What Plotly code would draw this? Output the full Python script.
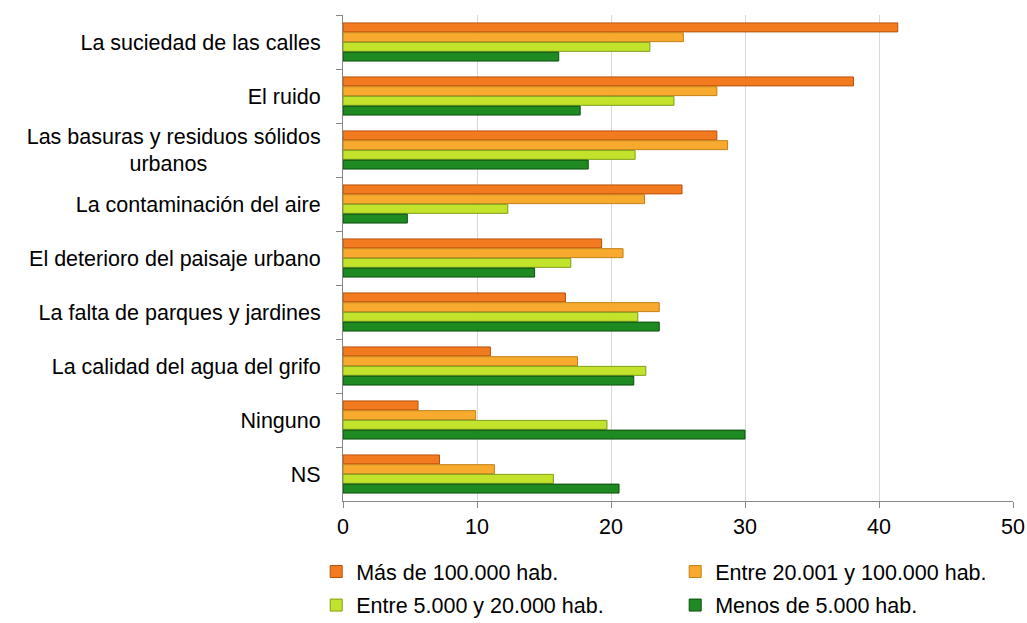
import plotly.graph_objects as go

categories = [
    "La suciedad de las calles",
    "El ruido",
    "Las basuras y residuos sólidos<br>urbanos" + "\u00a0" * 19,
    "La contaminación del aire",
    "El deterioro del paisaje urbano",
    "La falta de parques y jardines",
    "La calidad del agua del grifo",
    "Ninguno",
    "NS",
]

series_names = [
    "Más de 100.000 hab.",
    "Entre 20.001 y 100.000 hab.",
    "Entre 5.000 y 20.000 hab.",
    "Menos de 5.000 hab.",
]

mas_100000 = [41.4, 38.1, 27.9, 25.3, 19.3, 16.6, 11.0, 5.6, 7.2]
entre_20001_100000 = [25.4, 27.9, 28.7, 22.5, 20.9, 23.6, 17.5, 9.9, 11.3]
entre_5000_20000 = [22.9, 24.7, 21.8, 12.3, 17.0, 22.0, 22.6, 19.7, 15.7]
menos_5000 = [16.1, 17.7, 18.3, 4.8, 14.3, 23.6, 21.7, 30.0, 20.6]

values = [mas_100000, entre_20001_100000, entre_5000_20000, menos_5000]
fill_colors = ["#F27A1F", "#F8AA2E", "#C3E22C", "#1F8A22"]
edge_colors = ["#B9500C", "#C47F14", "#7E9F16", "#0C4F0E"]
legend_ids = ["legend", "legend", "legend2", "legend2"]

x_ticks = [0, 10, 20, 30, 40, 50]

FONT = "Liberation Sans, Arial, sans-serif"
FS = 21.5

fig = go.Figure()
for name, vals, fc, ec, lg in zip(series_names, values, fill_colors, edge_colors, legend_ids):
    fig.add_trace(go.Bar(
        y=categories,
        x=vals,
        name=name,
        orientation="h",
        marker=dict(color=fc, line=dict(color=ec, width=1)),
        legend=lg,
    ))

fig.update_layout(
    width=1027,
    height=623,
    margin=dict(l=343, r=14, t=15, b=122, autoexpand=False),
    paper_bgcolor="white",
    plot_bgcolor="white",
    barmode="group",
    bargap=0.28,
    bargroupgap=0.08,
    font=dict(family=FONT, size=FS, color="#000000"),
    xaxis=dict(
        range=[0, 50],
        tickvals=x_ticks,
        ticktext=[str(t) for t in x_ticks],
        showgrid=True,
        gridcolor="#D9D9D9",
        gridwidth=1,
        showline=True,
        linecolor="#868686",
        linewidth=1,
        ticks="outside",
        ticklen=6,
        tickcolor="#868686",
        zeroline=False,
        tickfont=dict(size=FS),
        automargin=False,
    ),
    yaxis=dict(
        autorange="reversed",
        showline=True,
        linecolor="#868686",
        linewidth=1,
        ticks="outside",
        ticklen=6,
        tickcolor="#868686",
        tickson="boundaries",
        showgrid=False,
        tickfont=dict(size=FS),
        ticklabelstandoff=17,
        automargin=False,
    ),
    legend=dict(
        orientation="h",
        x=-0.04, xanchor="left",
        y=-0.103, yanchor="top",
        entrywidth=314,
        font=dict(size=FS),
        bgcolor="rgba(0,0,0,0)",
    ),
    legend2=dict(
        orientation="h",
        x=-0.04, xanchor="left",
        y=-0.172, yanchor="top",
        entrywidth=314,
        font=dict(size=FS),
        bgcolor="rgba(0,0,0,0)",
    ),
)

page_fix = (
    "document.documentElement.style.overflow='hidden';"
    "document.body.style.overflow='hidden';"
    "document.body.style.margin='0';"
)

fig.write_html("out.html", post_script=page_fix, config={"displayModeBar": False})
